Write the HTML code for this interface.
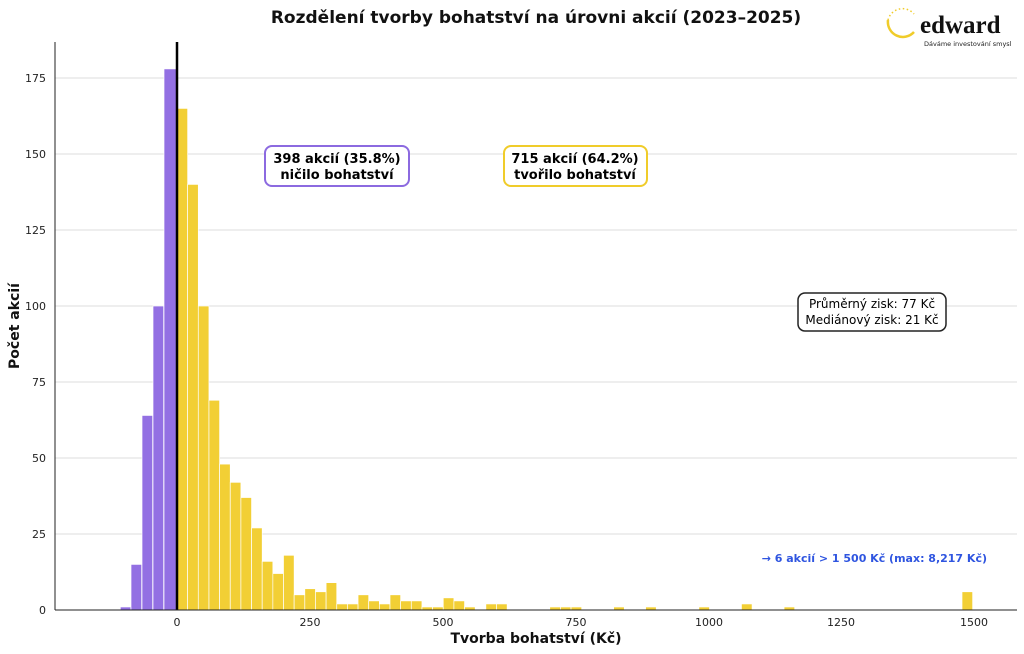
<!DOCTYPE html>
<html><head><meta charset="utf-8"><style>
body{margin:0;background:#fff}
svg{display:block;font-family:"DejaVu Sans","Liberation Sans",sans-serif}
</style></head><body>
<svg width="1024" height="654" viewBox="0 0 1024 654" xmlns="http://www.w3.org/2000/svg">
<rect width="1024" height="654" fill="#fff"/>
<text x="536" y="23" text-anchor="middle" font-size="17" font-weight="bold" fill="#111">Rozdělení tvorby bohatství na úrovni akcií (2023–2025)</text>
<g stroke="#ddd" stroke-width="1">
<line x1="55" x2="1017" y1="534" y2="534"/><line x1="55" x2="1017" y1="458" y2="458"/>
<line x1="55" x2="1017" y1="382" y2="382"/><line x1="55" x2="1017" y1="306" y2="306"/>
<line x1="55" x2="1017" y1="230" y2="230"/><line x1="55" x2="1017" y1="154" y2="154"/>
<line x1="55" x2="1017" y1="78" y2="78"/>
</g>
<g id="bars" stroke="#fff" stroke-width="0.7"></g>
<line x1="177" x2="177" y1="42" y2="610" stroke="#000" stroke-width="2.5"/>
<line x1="55" x2="55" y1="42" y2="610" stroke="#222" stroke-width="1"/>
<line x1="55" x2="1017" y1="610" y2="610" stroke="#222" stroke-width="1"/>
<g font-size="11" fill="#222" text-anchor="end">
<text x="46" y="614">0</text><text x="46" y="538">25</text><text x="46" y="462">50</text>
<text x="46" y="386">75</text><text x="46" y="310">100</text><text x="46" y="234">125</text>
<text x="46" y="158">150</text><text x="46" y="82">175</text>
</g>
<g font-size="11" fill="#222" text-anchor="middle">
<text x="177" y="626">0</text><text x="310" y="626">250</text><text x="443" y="626">500</text>
<text x="576" y="626">750</text><text x="709" y="626">1000</text><text x="841" y="626">1250</text><text x="974" y="626">1500</text>
</g>
<text x="536" y="643" text-anchor="middle" font-size="14" font-weight="bold" fill="#111">Tvorba bohatství (Kč)</text>
<text transform="translate(19,326) rotate(-90)" text-anchor="middle" font-size="14" font-weight="bold" fill="#111">Počet akcií</text>
<rect x="265" y="146" width="144" height="40" rx="7" fill="#fff" stroke="#8c6ae0" stroke-width="2"/>
<text x="337" y="163" text-anchor="middle" font-size="13" font-weight="bold">398 akcií (35.8%)</text>
<text x="337" y="179" text-anchor="middle" font-size="13" font-weight="bold">ničilo bohatství</text>
<rect x="504" y="146" width="143" height="40" rx="7" fill="#fff" stroke="#f0cc2a" stroke-width="2"/>
<text x="575" y="163" text-anchor="middle" font-size="13" font-weight="bold">715 akcií (64.2%)</text>
<text x="575" y="179" text-anchor="middle" font-size="13" font-weight="bold">tvořilo bohatství</text>
<rect x="798" y="293" width="148" height="38" rx="7" fill="#fff" stroke="#222" stroke-width="1.5"/>
<text x="872" y="308" text-anchor="middle" font-size="12">Průměrný zisk: 77 Kč</text>
<text x="872" y="324" text-anchor="middle" font-size="12">Mediánový zisk: 21 Kč</text>
<text x="987" y="562" text-anchor="end" font-size="11" font-weight="bold" fill="#2f55e0">→ 6 akcií &gt; 1 500 Kč (max: 8,217 Kč)</text>
<path d="M888 20 A15 15 0 0 0 914 32" fill="none" stroke="#f0cc2a" stroke-width="2.5"/>
<path d="M888 20 A15 15 0 0 1 914 14" fill="none" stroke="#f0cc2a" stroke-width="1.5" stroke-dasharray="1.5 2.5"/>
<text x="920" y="33" font-family="Liberation Serif,serif" font-size="25" font-weight="bold" fill="#111">edward</text>
<text x="924" y="46" font-size="6.5" fill="#222">Dáváme investování smysl</text>
</svg>
<script>
var g=document.getElementById('bars'),w=10.65,s=3.04,h='';
var p=[[120.3,1],[131,15],[142,64],[153,100],[164,178]];
p.forEach(function(b){var x=b[0],wd=(b[0]==164?12.5:w);h+='<rect x="'+x+'" y="'+(610-b[1]*s)+'" width="'+wd+'" height="'+b[1]*s+'" fill="#9370e3"/>';});
var y=[165,140,100,69,48,42,37,27,16,12,18,5,7,6,9,2,2,5,3,2,5,3,3,1,1,4,3,1,0,2,2,0,0,0,0,1,1,1,0,0,0,1,0,0,1,0,0,0,0,1,0,0,0,2,0,0,0,1];
y.forEach(function(c,i){if(c)h+='<rect x="'+(177+i*w)+'" y="'+(610-c*s)+'" width="'+w+'" height="'+c*s+'" fill="#f2cf35"/>';});
h+='<rect x="962" y="'+(610-6*s)+'" width="'+w+'" height="'+6*s+'" fill="#f2cf35"/>';
g.innerHTML=h;
</script>
</body></html>
